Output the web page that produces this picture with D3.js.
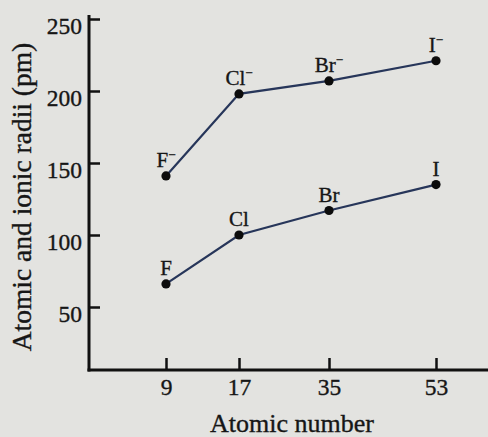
<!DOCTYPE html>
<html><head><meta charset="utf-8">
<script src="https://cdn.jsdelivr.net/npm/d3@7/dist/d3.min.js"></script>
<style>
html,body{margin:0;padding:0;background:#e3e3e0;}
svg{display:block;}
text{font-family:"Liberation Serif","DejaVu Serif",serif;fill:#161616;stroke:#161616;stroke-width:0.35px;}
</style></head>
<body>
<svg id="c" width="488" height="437"></svg>
<script>
// ---- data ----
const atomicNumbers = [9, 17, 35, 53];
const ionLabels = ["F", "Cl", "Br", "I"];           // shown with a superscript minus
const ionicRadii = [141, 198, 207, 221];
const atomLabels = ["F", "Cl", "Br", "I"];
const atomicRadii = [66, 100, 117, 135];
const yTicks = [50, 100, 150, 200, 250];
const xTitle = "Atomic number";
const yTitle = "Atomic and ionic radii (pm)";

// ---- layout ----
const W = 488, H = 437;
const axisX = 89, axisY = 370, axisTop = 15;
const xStops = [166, 239, 329, 436];   // uneven spacing of the original axis
const svg = d3.select("#c");
svg.append("rect").attr("width", W).attr("height", H).attr("fill", "#e3e3e0");

const x = d3.scaleLinear().domain(atomicNumbers).range(xStops);
const y = d3.scaleLinear().domain([0, 250]).range([379, 19]);

// axes lines
svg.append("line").attr("x1", axisX).attr("x2", axisX).attr("y1", axisTop).attr("y2", axisY + 1.5)
  .attr("stroke", "#111").attr("stroke-width", 3);
svg.append("line").attr("x1", axisX - 1.5).attr("x2", W + 5).attr("y1", axisY).attr("y2", axisY)
  .attr("stroke", "#111").attr("stroke-width", 3);

// y axis ticks (inward)
const yAxis = d3.axisLeft(y).tickValues(yTicks).tickSize(-11).tickSizeOuter(0).tickPadding(7);
const gy = svg.append("g").attr("transform", `translate(${axisX},0)`).call(yAxis);
gy.select(".domain").remove();
gy.selectAll(".tick line").attr("stroke", "#111").attr("stroke-width", 2.5);
gy.selectAll(".tick text").attr("font-size", 23.5).attr("fill", "#161616")
  .attr("font-family", "Liberation Serif").attr("dy", "0.6em");

// x axis ticks (inward)
const xAxis = d3.axisBottom(x).tickValues(atomicNumbers).tickFormat(d3.format("d"))
  .tickSize(-12).tickSizeOuter(0).tickPadding(8);
const gx = svg.append("g").attr("transform", `translate(0,${axisY})`).call(xAxis);
gx.select(".domain").remove();
gx.selectAll(".tick line").attr("stroke", "#111").attr("stroke-width", 2.5);
gx.selectAll(".tick text").attr("font-size", 23.5).attr("fill", "#161616")
  .attr("font-family", "Liberation Serif");

// titles
svg.append("text").attr("x", 292).attr("y", 432).attr("text-anchor", "middle")
  .attr("font-size", 26).text(xTitle);
svg.append("text").attr("transform", "translate(31,197) rotate(-90)").attr("text-anchor", "middle")
  .attr("font-size", 27.5).text(yTitle);

// series
const line = d3.line().x(d => x(d.n)).y(d => y(d.r));
function series(vals, labels, ion) {
  const pts = atomicNumbers.map((n, i) => ({n, r: vals[i], lab: labels[i]}));
  svg.append("path").datum(pts).attr("d", line).attr("fill", "none")
    .attr("stroke", "#27365a").attr("stroke-width", 2.2);
  svg.selectAll(null).data(pts).enter().append("circle")
    .attr("cx", d => x(d.n)).attr("cy", d => y(d.r)).attr("r", 4.6).attr("fill", "#0c0c0c");
  const t = svg.selectAll(null).data(pts).enter().append("text")
    .attr("x", d => x(d.n)).attr("y", d => y(d.r) - 9)
    .attr("text-anchor", "middle").attr("font-size", 21);
  t.append("tspan").text(d => d.lab);
  if (ion) t.append("tspan").attr("font-size", 13).attr("dy", -8).text("−");
}
series(ionicRadii, ionLabels, true);
series(atomicRadii, atomLabels, false);
</script>
</body></html>
